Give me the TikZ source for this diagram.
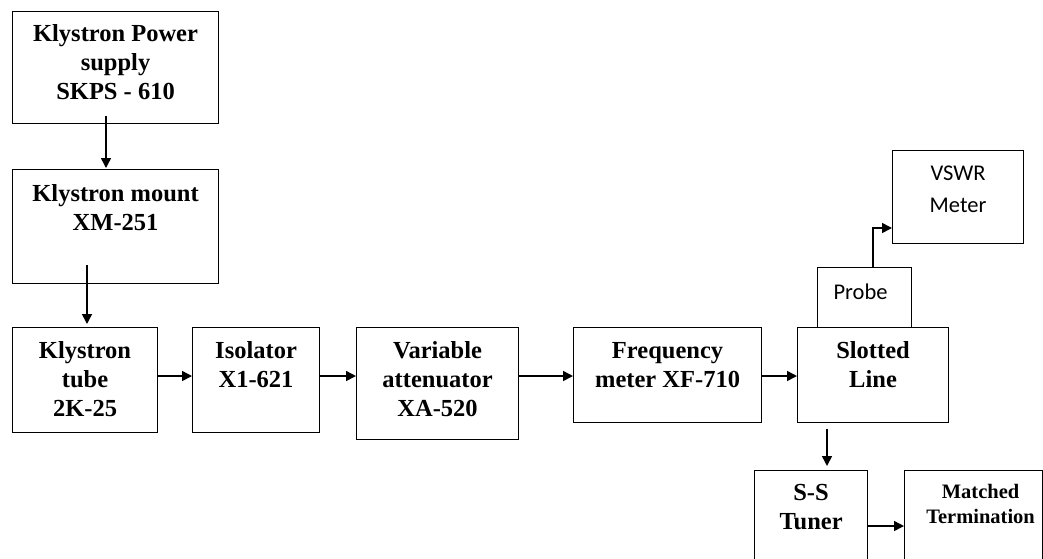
\documentclass[tikz,border=0pt]{standalone}
\usepackage{fontspec}
\setmainfont{Liberation Serif}
\newfontfamily\calib{Carlito}
\usetikzlibrary{arrows.meta}
\begin{document}
\begin{tikzpicture}[x=1pt,y=-1pt,
  blk/.style={draw, line width=1.1pt, inner sep=0pt, anchor=north west,
    font=\bfseries\fontsize{24.5}{29}\selectfont},
  sblk/.style={blk, font=\calib\fontsize{22.5}{32}\selectfont},
  mblk/.style={blk, font=\bfseries\fontsize{20.5}{25}\selectfont},
  arr/.style={line width=1.5pt, -{Triangle[length=10pt,width=10pt]}}]
\useasboundingbox (0,0) rectangle (1043,558);
\clip (0,0) rectangle (1043,558);

\node[blk] (kps) at (12,11) {\parbox[c][112pt][t]{206pt}{\centering\vspace*{13.4pt}Klystron Power\\supply\\SKPS - 610}};
\node[blk] (kmt) at (12,169) {\parbox[c][114pt][t]{206pt}{\centering\vspace*{15.4pt}Klystron mount\\XM-251}};
\node[blk] (ktb) at (12,327) {\parbox[c][105pt][t]{145pt}{\centering\vspace*{14.4pt}Klystron\\tube\\2K-25}};
\node[blk] (iso) at (192,327) {\parbox[c][105pt][t]{127pt}{\centering\vspace*{14.4pt}Isolator\\X1-621}};
\node[blk] (att) at (356,327) {\parbox[c][112pt][t]{162pt}{\centering\vspace*{14.4pt}Variable\\attenuator\\XA-520}};
\node[blk] (frq) at (573,327) {\parbox[c][95pt][t]{188pt}{\centering\vspace*{14.4pt}Frequency\\meter XF-710}};
\node[blk] (slt) at (797,327) {\parbox[c][95pt][t]{151pt}{\centering\vspace*{14.4pt}Slotted\\Line}};
\node[sblk] (prb) at (817,267) {\parbox[c][60pt][t]{94pt}{\centering\vspace*{16pt}Probe\hspace*{8pt}}};
\node[sblk] (vsw) at (892,150) {\parbox[c][93pt][t]{131pt}{\centering\vspace*{15.5pt}VSWR\\Meter}};
\node[blk] (tun) at (754,470) {\parbox[c][100pt][t]{113pt}{\centering\vspace*{13.8pt}S-S\\Tuner}};
\node[mblk] (mtc) at (904,470) {\parbox[c][100pt][t]{138pt}{\centering\vspace*{14pt}\hspace*{14pt}Matched\\\hspace*{14pt}Termination}};

\draw[arr] ([xshift=94pt,yshift=-105pt]kps.north west) -- ([xshift=94pt,yshift=1pt]kmt.north west);
\draw[arr] ([xshift=75pt,yshift=-96pt]kmt.north west) -- ([xshift=75pt,yshift=3pt]ktb.north west);
\draw[arr] ([yshift=-49pt]ktb.north east) -- ([yshift=-49pt]iso.north west);
\draw[arr] ([yshift=-49pt]iso.north east) -- ([yshift=-49pt]att.north west);
\draw[arr] ([yshift=-49pt]att.north east) -- ([yshift=-49pt]frq.north west);
\draw[arr] ([yshift=-49pt]frq.north east) -- ([yshift=-49pt]slt.north west);
\draw[arr] ([xshift=56pt]prb.north west) |- ([yshift=-78pt]vsw.north west);
\draw[arr] ([xshift=30pt,yshift=-6pt]slt.south west) -- ([xshift=73pt,yshift=4pt]tun.north west);
\draw[arr] ([yshift=-56pt]tun.north east) -- ([yshift=-56pt]mtc.north west);
\end{tikzpicture}
\end{document}
